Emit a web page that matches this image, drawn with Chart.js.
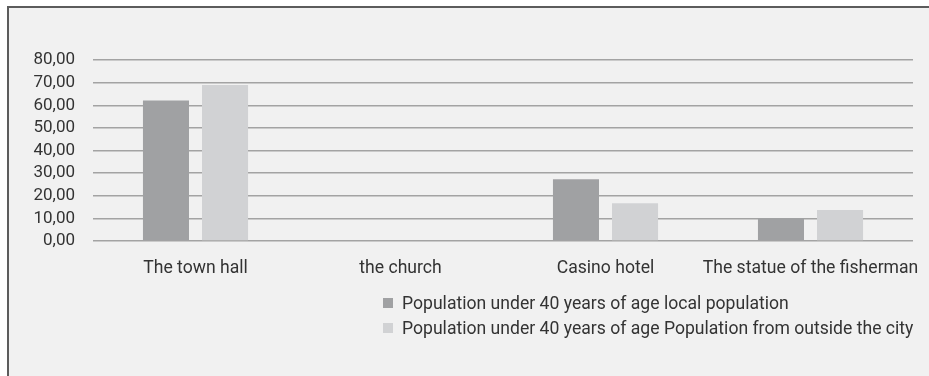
<!DOCTYPE html>
<html>
<head>
<meta charset="utf-8">
<script src="https://cdn.jsdelivr.net/npm/chart.js@4.4.1/dist/chart.umd.min.js"></script>
<style>
  html, body { margin: 0; padding: 0; background: #fff; }
  #wrap { position: relative; width: 929px; height: 376px; overflow: hidden; }
  #frame { position: absolute; left: 7px; top: 6px; width: 1000px; height: 400px;
           background: #f1f1f1; border-left: 2px solid #5c5c5c; border-top: 2px solid #5c5c5c; }
  #chart { position: absolute; left: 0; top: 0; }
  #legend { position: absolute; left: 383px; top: 291px; font: 17.6px Roboto, sans-serif; color: #333; }
  #legend div { height: 25px; line-height: 25px; white-space: nowrap; }
  #legend span { display: inline-block; width: 10px; height: 10px; margin-right: 9px; vertical-align: 1px; }
</style>
</head>
<body>
<div id="wrap">
  <div id="frame"></div>
  <canvas id="chart" width="929" height="376"></canvas>
  <div id="legend"></div>
</div>
<script>
const categories = ['The town hall', 'the church', 'Casino hotel', 'The statue of the fisherman'];
const seriesNames = [
  'Population under 40 years of age local population',
  'Population under 40 years of age Population from outside the city'
];
const localValues = [62.1, 0, 27.3, 10.0];
const outsideValues = [69.0, 0, 16.7, 13.7];
const seriesColors = ['#a0a1a3', '#d1d2d4'];
const yTicks = [0, 10, 20, 30, 40, 50, 60, 70, 80];

const ctx = document.getElementById('chart').getContext('2d');
const chart = new Chart(ctx, {
  type: 'bar',
  data: {
    labels: categories,
    datasets: [
      { label: seriesNames[0], data: localValues, backgroundColor: seriesColors[0] },
      { label: seriesNames[1], data: outsideValues, backgroundColor: seriesColors[1] }
    ]
  },
  options: {
    responsive: false,
    animation: false,
    categoryPercentage: 0.576,
    barPercentage: 0.78,
    layout: { padding: { top: 60, right: 16, left: 0, bottom: 0 } },
    plugins: { legend: { display: false }, tooltip: { enabled: false } },
    scales: {
      x: {
        grid: { display: false, drawTicks: false },
        border: { display: false },
        ticks: { color: '#333', font: { family: 'Roboto', size: 17.6 }, padding: 17, maxRotation: 0, autoSkip: false },
        afterFit: (s) => { s.height = 135; s.paddingLeft = 0; s.paddingRight = 0; }
      },
      y: {
        min: 0, max: 80,
        afterBuildTicks: (s) => { s.ticks = yTicks.map(v => ({ value: v })); },
        grid: { color: '#a3a3a3', lineWidth: 1.5, drawTicks: false },
        border: { display: false },
        ticks: {
          color: '#333', font: { family: 'Roboto', size: 17 }, padding: 18, autoSkip: false,
          callback: (v) => v.toFixed(2).replace('.', ',')
        },
        afterFit: (s) => { s.width = 93; s.paddingTop = 0; s.paddingBottom = 0; }
      }
    }
  }
});

const legend = document.getElementById('legend');
seriesNames.forEach((name, i) => {
  const row = document.createElement('div');
  const box = document.createElement('span');
  box.style.background = seriesColors[i];
  row.appendChild(box);
  row.appendChild(document.createTextNode(name));
  legend.appendChild(row);
});
</script>
</body>
</html>
